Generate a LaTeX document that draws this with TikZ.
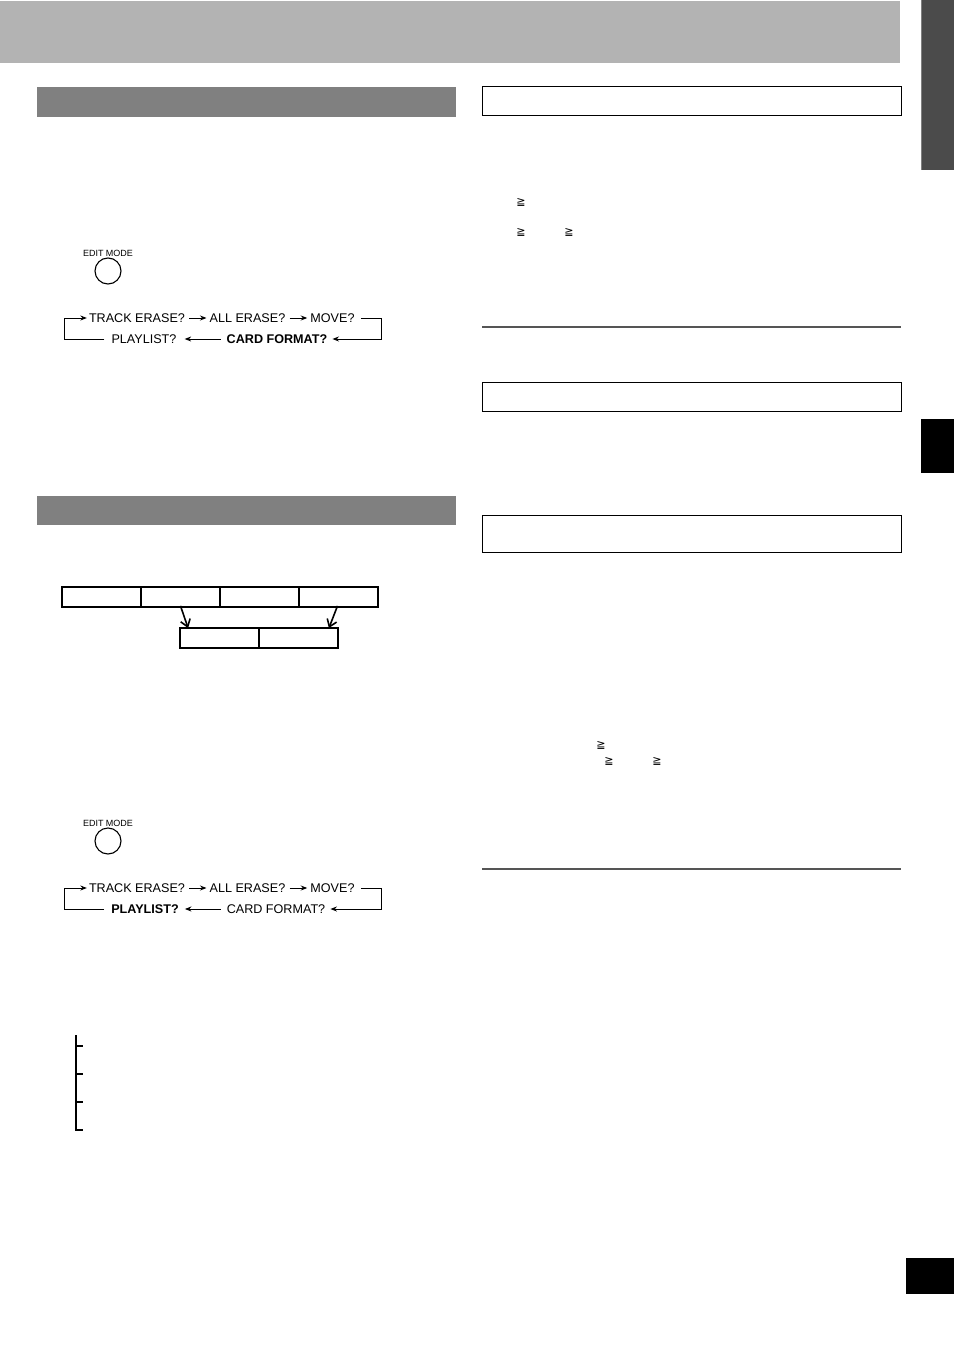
\documentclass[tikz,border=0pt]{standalone}
\usepackage{fontspec}
\setmainfont{Liberation Sans}
\newfontfamily\symfont{DejaVu Sans}
\usetikzlibrary{arrows.meta}
\definecolor{bannergray}{HTML}{B3B3B3}
\definecolor{headgray}{HTML}{808080}
\definecolor{tabdark}{HTML}{4B4B4B}
\definecolor{rulegray}{HTML}{555555}
\tikzset{
  flow/.style={font=\fontsize{12.6}{14}\selectfont, inner sep=0pt, anchor=center},
  flowb/.style={flow, font=\fontsize{12.6}{14}\selectfont\bfseries},
  farr/.style={-{Stealth[length=6.5pt,width=5pt]}, line width=1pt},
  fline/.style={line width=1pt},
  btn/.style={circle, draw, line width=1.1pt, minimum size=26pt, inner sep=0pt},
  btnlabel/.style={font=\fontsize{9}{10}\selectfont, inner sep=0pt},
  trk/.style={draw, line width=1.8pt, minimum width=79pt, minimum height=20pt, inner sep=0pt},
  openarr/.style={-{Straight Barb[length=7pt,width=10pt]}, line width=1.6pt},
  rbox/.style={draw, line width=1pt},
  geq/.style={font=\symfont\fontsize{11}{12}\selectfont, inner sep=0pt},
}
\begin{document}
\begin{tikzpicture}[x=1pt,y=-1pt]
\useasboundingbox (0,0) rectangle (954,1348);
% banner and tabs
\fill[bannergray] (0,1) rectangle (900,63);
\fill[tabdark] (921,0) rectangle (954,170);
\draw[gray, line width=1pt] (921.5,0) -- (921.5,170);
\fill[black] (921,419) rectangle (954,473);
\fill[black] (906,1258) rectangle (954,1294);
% section headers left
\fill[headgray] (37,87) rectangle (456,117);
\fill[headgray] (37,496) rectangle (456,525);
% right boxes
\draw[rbox] (482,87) rectangle (901,116);
\draw[rbox] (482,382) rectangle (901,411);
\draw[rbox] (482,515) rectangle (901,552);
% rules
\draw[rulegray, line width=1.2pt] (482,327) -- (901,327);
\draw[rulegray, line width=1.2pt] (482,869) -- (901,869);
% geq symbols
\node[geq] (g1) at (521,202) {≧};
\node[geq] (g2) at (521,232) {≧};
\node[geq] (g3) at (569,232) {≧};
\node[geq] (g4) at (601,745) {≧};
\node[geq] (g5) at (609,761) {≧};
\node[geq] (g6) at (657,761) {≧};

% ---------- first EDIT MODE diagram ----------
\node[btnlabel] (e1) at (108,253) {EDIT MODE};
\node[btn] (b1) at (108,271) {};
\node[flow] (t1) at (137,318) {TRACK ERASE?};
\node[flow] (a1) at (247.5,318) {ALL ERASE?};
\node[flow] (m1) at (332.5,318) {MOVE?};
\node[flowb] (c1) at (277,339) {CARD FORMAT?};
\node[flow] (p1) at (144,339) {PLAYLIST?};
\coordinate (r1) at (381,318);
\coordinate (l1) at (64,339);
\draw[farr, shorten <=4pt, shorten >=3pt] (t1) -- (a1);
\draw[farr, shorten <=4pt, shorten >=3pt] (a1) -- (m1);
\draw[fline] ([xshift=6pt]m1.east) -- (r1);
\draw[farr] (r1) |- ([xshift=5pt]c1.east);
\draw[farr] ([xshift=-6pt]c1.west) -- ([xshift=8pt]p1.east);
\draw[fline] ([xshift=-7pt]p1.west) -- (l1);
\draw[farr] (l1) |- ([xshift=-2pt]t1.west);

% ---------- track boxes ----------
\node[trk] (s1) at (101.5,597) {};
\node[trk] (s2) at (180.5,597) {};
\node[trk] (s3) at (259.5,597) {};
\node[trk] (s4) at (338.5,597) {};
\node[trk] (d1) at (219.5,638) {};
\node[trk] (d2) at (298.5,638) {};
\draw[openarr] ([yshift=2pt]s2.south) -- ([xshift=9pt,yshift=-1pt]d1.north west);
\draw[openarr] ([xshift=-1pt,yshift=2pt]s4.south) -- ([xshift=-10pt,yshift=-1pt]d2.north east);

% ---------- second EDIT MODE diagram ----------
\node[btnlabel] (e2) at (108,823) {EDIT MODE};
\node[btn] (b2) at (108,841) {};
\node[flow] (t2) at (137,888) {TRACK ERASE?};
\node[flow] (a2) at (247.5,888) {ALL ERASE?};
\node[flow] (m2) at (332.5,888) {MOVE?};
\node[flow] (c2) at (276,909) {CARD FORMAT?};
\node[flowb] (p2) at (145,909) {PLAYLIST?};
\coordinate (r2) at (381,888);
\coordinate (l2) at (64,909);
\draw[farr, shorten <=4pt, shorten >=3pt] (t2) -- (a2);
\draw[farr, shorten <=4pt, shorten >=3pt] (a2) -- (m2);
\draw[fline] ([xshift=6pt]m2.east) -- (r2);
\draw[farr] (r2) |- ([xshift=5pt]c2.east);
\draw[farr] ([xshift=-6pt]c2.west) -- ([xshift=6pt]p2.east);
\draw[fline] ([xshift=-7pt]p2.west) -- (l2);
\draw[farr] (l2) |- ([xshift=-2pt]t2.west);

% ---------- bracket ----------
\draw[line width=1.8pt] (76,1035) -- (76,1130) -- (83,1130);
\draw[line width=1.8pt] (76,1046) -- (83,1046);
\draw[line width=1.8pt] (76,1074) -- (83,1074);
\draw[line width=1.8pt] (76,1102) -- (83,1102);
\end{tikzpicture}
\end{document}
